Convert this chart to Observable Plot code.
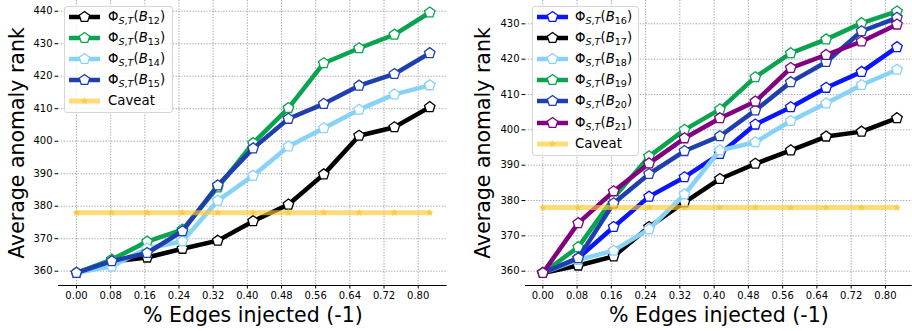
<!DOCTYPE html>
<html><head><meta charset="utf-8">
<script src="https://cdn.jsdelivr.net/npm/d3@7"></script>
<script src="https://cdn.jsdelivr.net/npm/@observablehq/plot@0.6"></script>
<style>
html,body{margin:0;padding:0;background:#fff;color:#000;font-family:"DejaVu Sans",sans-serif;}
#wrap{position:relative;width:912px;height:331px;display:flex;overflow:hidden;}
#wrap svg{display:block;}
.legend{position:absolute;background:rgba(255,255,255,0.82);border:1px solid #d6d6d6;border-radius:3px;box-sizing:border-box;}
.row{position:absolute;left:0;height:20px;width:100%;}
.row svg{position:absolute;left:0;top:0;}
.row .lab{position:absolute;top:0;height:20px;line-height:20px;font-size:13.3px;white-space:nowrap;}
.lab sub{font-size:0.72em;vertical-align:-0.32em;line-height:0;}
.lab i{font-style:italic;}
</style>
</head><body>
<div id="wrap"><div id="left"></div><div id="right"></div></div>
<script>
// ---- data ----
const xValues = [0, 0.0827, 0.1654, 0.2481, 0.3308, 0.4135, 0.4962, 0.5789, 0.6616, 0.7443, 0.8270];
const xTicks = [0, 0.08, 0.16, 0.24, 0.32, 0.40, 0.48, 0.56, 0.64, 0.72, 0.80];
const leftYTicks = [360, 370, 380, 390, 400, 410, 420, 430, 440];
const rightYTicks = [360, 370, 380, 390, 400, 410, 420, 430];
const caveatValue = 378;
const xLabel = "% Edges injected (-1)";
const yLabel = "Average anomaly rank";
const caveatLabel = "Caveat";

const leftIds = ["12", "13", "14", "15"];
const B12 = [359.5, 363.0, 364.2, 366.9, 369.4, 375.4, 380.5, 389.8, 401.7, 404.3, 410.5];
const B13 = [359.5, 363.6, 369.1, 372.8, 385.8, 399.4, 410.2, 424.0, 428.6, 432.8, 439.6];
const B14 = [359.5, 361.5, 367.0, 369.2, 381.7, 389.4, 398.4, 404.0, 409.7, 414.4, 417.2];
const B15 = [359.5, 363.1, 365.6, 372.3, 386.4, 397.8, 406.9, 411.5, 417.1, 420.7, 427.1];

const rightIds = ["16", "17", "18", "19", "20", "21"];
const B16 = [359.5, 363.7, 372.5, 381.1, 386.6, 393.2, 401.5, 406.4, 411.9, 416.4, 423.4];
const B17 = [359.5, 361.6, 364.2, 372.5, 379.5, 386.1, 390.4, 394.2, 398.1, 399.5, 403.3];
const B18 = [359.5, 363.2, 365.8, 371.9, 381.7, 394.2, 396.5, 402.5, 407.5, 412.7, 417.0];
const B19 = [359.5, 366.8, 380.8, 392.5, 400.0, 405.8, 414.9, 421.7, 425.6, 430.2, 433.5];
const B20 = [359.5, 363.7, 379.2, 387.5, 394.0, 398.2, 405.5, 413.5, 419.2, 427.9, 431.7];
const B21 = [359.5, 373.6, 382.6, 390.5, 397.6, 403.3, 408.0, 417.5, 421.2, 425.0, 429.8];

// ---- styles ----
const C = {black:"#000000", green:"#0aa34f", light:"#87d3f7", dark:"#1f3fae", blue:"#0a14ff", purple:"#800080"};
const leftSeries = [
  {id:leftIds[0], values:B12, color:C.black},
  {id:leftIds[1], values:B13, color:C.green},
  {id:leftIds[2], values:B14, color:C.light},
  {id:leftIds[3], values:B15, color:C.dark}
];
const rightSeries = [
  {id:rightIds[0], values:B16, color:C.blue},
  {id:rightIds[1], values:B17, color:C.black},
  {id:rightIds[2], values:B18, color:C.light},
  {id:rightIds[3], values:B19, color:C.green},
  {id:rightIds[4], values:B20, color:C.dark},
  {id:rightIds[5], values:B21, color:C.purple}
];
const caveatColor = "#ffc933";
const caveatOpacity = 0.65;

const pentagon = {draw(ctx, size){
  const r = Math.sqrt(size/Math.PI);
  for (let i=0;i<5;i++){
    const a = -Math.PI/2 + i*2*Math.PI/5;
    const px = r*Math.cos(a), py = r*Math.sin(a);
    if (i===0) ctx.moveTo(px,py); else ctx.lineTo(px,py);
  }
  ctx.closePath();
}};

function chart({width, marginLeft, marginRight, xDomain, yDomain, yTicks, series, ylabelDx}) {
  const gridStyle = {stroke:"#6f7d8c", strokeOpacity:0.85, strokeWidth:0.8, strokeDasharray:"1.3,1.5"};
  const marks = [
    Plot.gridX(xTicks, gridStyle),
    Plot.gridY(yTicks, gridStyle),
    Plot.axisX(xTicks, {tickFormat:d3.format(".2f"), fontSize:10, tickSize:3.5, tickPadding:2.5, label:null}),
    Plot.axisY(yTicks, {fontSize:10, tickSize:3.5, tickPadding:2.5, label:null}),
    Plot.ruleY([yDomain[0]], {stroke:"#000", strokeWidth:1.2})
  ];
  for (const s of series) {
    const data = xValues.map((x,i)=>({x, y:s.values[i]}));
    marks.push(Plot.line(data, {x:"x", y:"y", stroke:s.color, strokeWidth:4.5, strokeLinejoin:"round"}));
    marks.push(Plot.dot(data, {x:"x", y:"y", symbol:pentagon, r:5.5, fill:"white", stroke:s.color, strokeWidth:1.3}));
  }
  const cav = xValues.map(x=>({x, y:caveatValue}));
  marks.push(Plot.line(cav, {x:"x", y:"y", stroke:caveatColor, strokeOpacity:caveatOpacity, strokeWidth:5}));
  marks.push(Plot.dot(cav, {x:"x", y:"y", symbol:"star", r:2.6, fill:"#f5bf2a", fillOpacity:0.6}));
  marks.push(Plot.text([xLabel], {frameAnchor:"bottom", dy:30, fontSize:20.5, textAnchor:"middle", lineAnchor:"middle", fill:"#000"}));
  marks.push(Plot.text([yLabel], {frameAnchor:"left", dx:ylabelDx, rotate:-90, fontSize:20.5, textAnchor:"middle", lineAnchor:"middle", fill:"#000"}));
  return Plot.plot({
    width, height:331, marginTop:0, marginBottom:46, marginLeft, marginRight,
    x:{domain:xDomain, label:null}, y:{domain:yDomain, label:null},
    style:{fontFamily:"DejaVu Sans, sans-serif", background:"transparent", color:"#000", overflow:"visible"},
    marks
  });
}

document.getElementById("left").appendChild(chart({
  width:455, marginLeft:58, marginRight:8.3,
  xDomain:[-0.0421, 0.8679], yDomain:[355.6, 443.3], yTicks:leftYTicks,
  series:leftSeries, ylabelDx:-41
}));
document.getElementById("right").appendChild(chart({
  width:457, marginLeft:70, marginRight:0.3,
  xDomain:[-0.0404, 0.8625], yDomain:[355.95, 436.6], yTicks:rightYTicks,
  series:rightSeries, ylabelDx:-42
}));

// ---- legends ----
function swatch(color, isCaveat) {
  const ns = "http://www.w3.org/2000/svg";
  const svg = document.createElementNS(ns, "svg");
  svg.setAttribute("width", 40); svg.setAttribute("height", 20);
  const line = document.createElementNS(ns, "line");
  line.setAttribute("x1", 4); line.setAttribute("x2", 35); line.setAttribute("y1", 10); line.setAttribute("y2", 10);
  line.setAttribute("stroke", color); line.setAttribute("stroke-width", isCaveat ? 5 : 4.5);
  if (isCaveat) line.setAttribute("stroke-opacity", caveatOpacity);
  svg.appendChild(line);
  const p = document.createElementNS(ns, "path");
  if (isCaveat) {
    p.setAttribute("d", d3.symbol(d3.symbolStar, 2.6*2.6*Math.PI)());
    p.setAttribute("fill", "#f5bf2a"); p.setAttribute("fill-opacity", 0.6);
  } else {
    p.setAttribute("d", d3.symbol(pentagon, 5.5*5.5*Math.PI)());
    p.setAttribute("fill", "white"); p.setAttribute("stroke", color); p.setAttribute("stroke-width", 1.3);
  }
  p.setAttribute("transform", "translate(19.5,10)");
  svg.appendChild(p);
  return svg;
}
function legend({left, top, width, height, series, rowTop0, rowStep, textLeft}) {
  const box = document.createElement("div");
  box.className = "legend";
  Object.assign(box.style, {left:left+"px", top:top+"px", width:width+"px", height:height+"px"});
  const items = series.map(s=>({color:s.color, html:`Φ<sub><i>S</i>,<i>T</i></sub>(<i>B</i><sub>${s.id}</sub>)`}))
    .concat([{color:caveatColor, html:caveatLabel, caveat:true}]);
  items.forEach((it,i)=>{
    const row = document.createElement("div");
    row.className = "row";
    row.style.top = (rowTop0 + i*rowStep - 10) + "px";
    row.appendChild(swatch(it.color, it.caveat));
    const lab = document.createElement("div");
    lab.className = "lab"; lab.style.left = textLeft + "px"; lab.innerHTML = it.html;
    row.appendChild(lab);
    box.appendChild(row);
  });
  document.getElementById("wrap").appendChild(box);
}
legend({left:64, top:5.7, width:109, height:107.5, series:leftSeries, rowTop0:10, rowStep:21.2, textLeft:43});
legend({left:531.5, top:5.7, width:107.5, height:150.5, series:rightSeries, rowTop0:10, rowStep:21.2, textLeft:42.5});
</script>
</body></html>
